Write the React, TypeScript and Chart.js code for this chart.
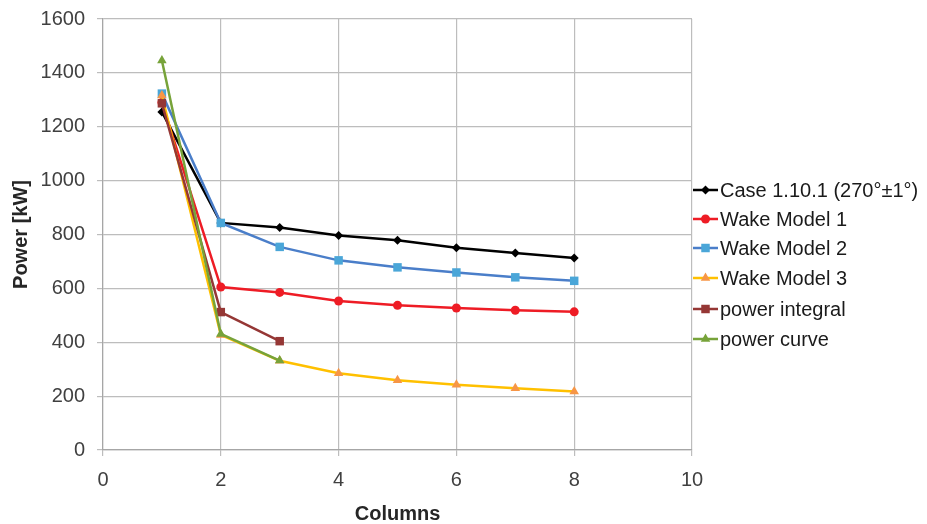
import React, { useEffect, useRef } from "react";
import { Chart, registerables } from "chart.js";

Chart.register(...registerables);

const columns = [1, 2, 3, 4, 5, 6, 7, 8];
const caseValues = [1255, 843, 826, 796, 779, 751, 731, 713];
const wake1Values = [1290, 605, 585, 553, 537, 527, 519, 513];
const wake2Values = [1323, 843, 754, 704, 678, 659, 641, 628];
const wake3Values = [1316, 427, 331, 285, 259, 242, 229, 217];
const integralValues = [1287, 512, 404];
const curveValues = [1446, 431, 332];

const seriesNames = [
  "Case 1.10.1 (270°±1°)",
  "Wake Model 1",
  "Wake Model 2",
  "Wake Model 3",
  "power integral",
  "power curve",
];

const FONT = "'Liberation Sans', Arial, sans-serif";

type Style = { line: string; fill: string; shape: string; r: number };
const styles: Style[] = [
  { line: "#000000", fill: "#000000", shape: "rectRot", r: 4.5 },
  { line: "#ee1c25", fill: "#ee1c25", shape: "circle", r: 4.5 },
  { line: "#4a7ec9", fill: "#4aa6d8", shape: "rect", r: 6 },
  { line: "#ffc000", fill: "#f79646", shape: "triangle", r: 5.5 },
  { line: "#953735", fill: "#953735", shape: "rect", r: 6 },
  { line: "#77a33a", fill: "#77a33a", shape: "triangle", r: 5.5 },
];

const seriesValues = [caseValues, wake1Values, wake2Values, wake3Values, integralValues, curveValues];

function drawMarker(ctx: CanvasRenderingContext2D, s: Style, x: number, y: number) {
  ctx.beginPath();
  const r = s.r;
  if (s.shape === "circle") {
    ctx.arc(x, y, r, 0, Math.PI * 2);
  } else if (s.shape === "rect") {
    const h = r * Math.SQRT1_2;
    ctx.rect(x - h, y - h, 2 * h, 2 * h);
  } else if (s.shape === "rectRot") {
    ctx.moveTo(x, y - r);
    ctx.lineTo(x + r, y);
    ctx.lineTo(x, y + r);
    ctx.lineTo(x - r, y);
    ctx.closePath();
  } else if (s.shape === "triangle") {
    const a = (3 * r) / Math.sqrt(3);
    const h = (a * Math.sqrt(3)) / 2;
    ctx.moveTo(x, y - (2 * h) / 3);
    ctx.lineTo(x + a / 2, y + h / 3);
    ctx.lineTo(x - a / 2, y + h / 3);
    ctx.closePath();
  }
  ctx.fillStyle = s.fill;
  ctx.fill();
}

const legendPlugin = {
  id: "customLegend",
  afterDraw(chart: any) {
    const ctx = chart.ctx as CanvasRenderingContext2D;
    const rowsY = [190, 219, 248, 278, 309, 339];
    ctx.save();
    seriesNames.forEach((name, i) => {
      const y = rowsY[i];
      const s = styles[i];
      ctx.strokeStyle = s.line;
      ctx.lineWidth = 2.5;
      ctx.beginPath();
      ctx.moveTo(693, y);
      ctx.lineTo(718, y);
      ctx.stroke();
      drawMarker(ctx, s, 705.5, y);
      ctx.fillStyle = "#1a1a1a";
      ctx.font = `20px ${FONT}`;
      ctx.textAlign = "left";
      ctx.textBaseline = "middle";
      ctx.fillText(name, 720, y + 1);
    });
    ctx.restore();
  },
};

export default function App() {
  const ref = useRef<HTMLCanvasElement | null>(null);
  useEffect(() => {
    if (!ref.current) return;
    const n = seriesNames.length;
    const chart = new Chart(ref.current, {
      type: "line",
      data: {
        datasets: seriesNames.map((name, i) => ({
          label: name,
          data: seriesValues[i].map((v, j) => ({ x: columns[j], y: v })),
          borderColor: styles[i].line,
          backgroundColor: styles[i].fill,
          pointBackgroundColor: styles[i].fill,
          pointBorderColor: styles[i].fill,
          pointBorderWidth: 0,
          pointStyle: styles[i].shape as any,
          pointRadius: styles[i].r,
          borderWidth: 2.5,
          tension: 0,
          fill: false,
          order: n - i,
        })),
      },
      options: {
        responsive: false,
        animation: false,
        layout: { padding: { left: 0, right: 235, top: 19, bottom: 0 } },
        plugins: {
          legend: { display: false },
          tooltip: { enabled: false },
        },
        scales: {
          x: {
            type: "linear",
            min: 0,
            max: 10,
            ticks: {
              stepSize: 2,
              color: "#404040",
              font: { family: FONT, size: 20 },
              padding: 12,
              callback: (v: any) => String(v),
            },
            grid: { color: "#bdbdbd", lineWidth: 1.2, tickLength: 6, drawTicks: true },
            border: { color: "#a6a6a6", width: 1.2 },
            title: {
              display: true,
              text: "Columns",
              color: "#262626",
              font: { family: FONT, size: 20, weight: "bold" },
              padding: { top: 0, bottom: -2 },
            },
            afterFit(scale: any) {
              scale.height = 74;
              scale.paddingLeft = 0;
              scale.paddingRight = 0;
            },
          },
          y: {
            min: 0,
            max: 1600,
            ticks: {
              stepSize: 200,
              color: "#404040",
              font: { family: FONT, size: 20 },
              padding: 12,
              callback: (v: any) => String(v),
            },
            grid: { color: "#bdbdbd", lineWidth: 1.2, tickLength: 6 },
            border: { color: "#a6a6a6", width: 1.2 },
            title: {
              display: true,
              text: "Power [kW]",
              color: "#262626",
              font: { family: FONT, size: 20, weight: "bold" },
              padding: { top: 9, bottom: 0 },
            },
            afterFit(scale: any) {
              scale.width = 103;
              scale.paddingTop = 0;
              scale.paddingBottom = 0;
            },
          },
        },
      },
      plugins: [legendPlugin],
    });
    return () => chart.destroy();
  }, []);
  return (
    <div style={{ position: "fixed", left: 0, top: 0, width: 927, height: 524, background: "#fff" }}>
      <canvas ref={ref} width={927} height={524} />
    </div>
  );
}
